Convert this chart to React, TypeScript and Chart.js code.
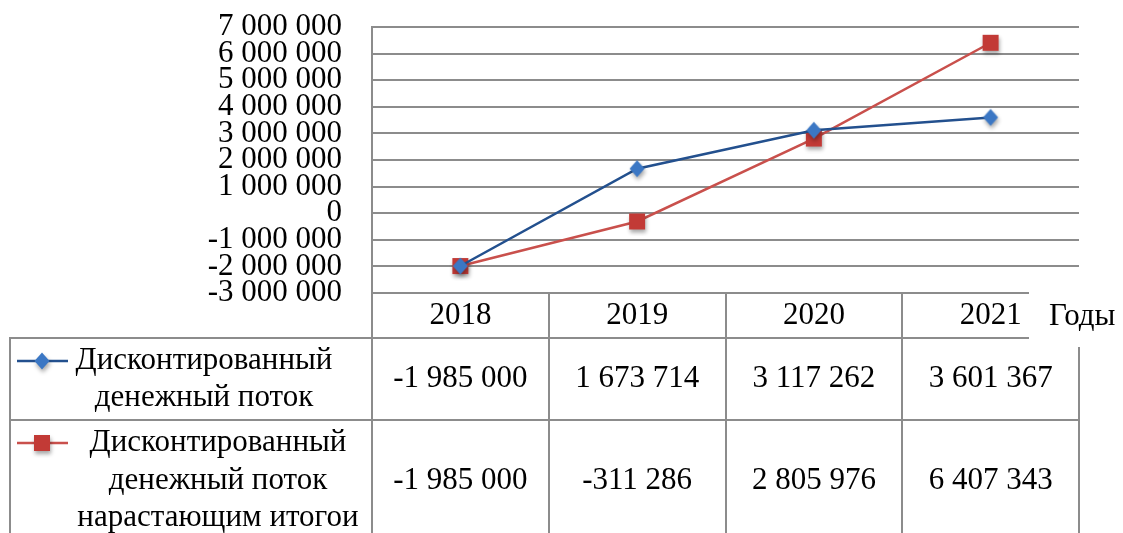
import React, { useEffect, useRef } from "react";
import { Chart, registerables } from "chart.js";

Chart.register(...registerables);

const categories = ["2018", "2019", "2020", "2021"];
const discounted = [-1985000, 1673714, 3117262, 3601367];
const cumulative = [-1985000, -311286, 2805976, 6407343];
const seriesNames = [
  ["Дисконтированный", "денежный поток"],
  ["Дисконтированный", "денежный поток", "нарастающим итогои"],
];
const axisTitle = "Годы";
const yMin = -3000000;
const yMax = 7000000;
const yStep = 1000000;

const FONT = "'Liberation Serif', 'Times New Roman', serif";
const FONT_SIZE = 31;
const GRID = "#8c8c8c";
const BLUE_LINE = "#23508e";
const BLUE_MARK = "#3b77c4";
const RED_LINE = "#c9504c";
const RED_MARK = "#c23a36";

function fmt(n: number): string {
  const s = Math.round(Math.abs(n)).toString();
  const parts: string[] = [];
  for (let i = s.length; i > 0; i -= 3) parts.unshift(s.slice(Math.max(0, i - 3), i));
  return (n < 0 ? "-" : "") + parts.join(" ");
}

function makeDiamond(): HTMLCanvasElement {
  const c = document.createElement("canvas");
  c.width = 28;
  c.height = 30;
  const g = c.getContext("2d")!;
  const cx = 14, cy = 15, hw = 7.5, hh = 8.5;
  g.shadowColor = "rgba(0,0,0,0.35)";
  g.shadowBlur = 4;
  g.shadowOffsetX = 1;
  g.shadowOffsetY = 3;
  g.beginPath();
  g.moveTo(cx, cy - hh);
  g.lineTo(cx + hw, cy);
  g.lineTo(cx, cy + hh);
  g.lineTo(cx - hw, cy);
  g.closePath();
  g.fillStyle = BLUE_MARK;
  g.fill();
  return c;
}

function makeSquare(): HTMLCanvasElement {
  const c = document.createElement("canvas");
  c.width = 30;
  c.height = 30;
  const g = c.getContext("2d")!;
  g.shadowColor = "rgba(0,0,0,0.35)";
  g.shadowBlur = 4;
  g.shadowOffsetX = 1;
  g.shadowOffsetY = 3;
  g.fillStyle = RED_MARK;
  g.fillRect(15 - 8, 15 - 8, 16, 16);
  return c;
}

export default function App() {
  const ref = useRef<HTMLCanvasElement | null>(null);

  useEffect(() => {
    if (!ref.current) return;
    const diamond = makeDiamond();
    const square = makeSquare();
    const markers = [diamond, square];
    const lineColors = [BLUE_LINE, RED_LINE];
    const seriesData = [discounted, cumulative];

    const tablePlugin = {
      id: "dataTable",
      afterDraw(chart: any) {
        const { ctx, chartArea } = chart;
        const left = chartArea.left;
        const right = chartArea.right;
        const bottom = chartArea.bottom;
        const cw = (right - left) / categories.length;
        const headerBottom = bottom + 45;
        const row1Bottom = headerBottom + 82;
        const tableBottom = 533;
        const tableLeft = 10;

        ctx.save();
        ctx.strokeStyle = GRID;
        ctx.lineWidth = 2;
        ctx.beginPath();
        ctx.moveTo(tableLeft - 1, headerBottom);
        ctx.lineTo(right + 1, headerBottom);
        ctx.moveTo(tableLeft - 1, row1Bottom);
        ctx.lineTo(right + 1, row1Bottom);
        ctx.moveTo(tableLeft, headerBottom);
        ctx.lineTo(tableLeft, tableBottom);
        for (let i = 0; i <= categories.length; i++) {
          const xx = Math.round(left + i * cw);
          ctx.moveTo(xx, bottom);
          ctx.lineTo(xx, tableBottom);
        }
        ctx.stroke();

        ctx.fillStyle = "#000";
        ctx.font = `${FONT_SIZE}px ${FONT}`;
        ctx.textAlign = "center";
        ctx.textBaseline = "middle";
        const xs = chart.scales.x;
        categories.forEach((c, i) => {
          const cx = xs.getPixelForValue(i);
          ctx.fillText(c, cx, bottom + 23);
          ctx.fillText(fmt(discounted[i]), cx, headerBottom + 41);
          ctx.fillText(fmt(cumulative[i]), cx, row1Bottom + 61);
        });

        const labelCenters = [204, 218];
        const lineYs = [
          [headerBottom + 23, headerBottom + 60],
          [row1Bottom + 23, row1Bottom + 61, row1Bottom + 98],
        ];
        seriesNames.forEach((lines, s) => {
          lines.forEach((t, j) => ctx.fillText(t, labelCenters[s], lineYs[s][j]));
          const my = lineYs[s][0];
          ctx.strokeStyle = lineColors[s];
          ctx.lineWidth = 2.5;
          ctx.beginPath();
          ctx.moveTo(17, my);
          ctx.lineTo(68, my);
          ctx.stroke();
          const m = markers[s];
          ctx.drawImage(m, 42 - m.width / 2, my - m.height / 2);
        });

        ctx.fillStyle = "#fff";
        ctx.fillRect(1029, bottom - 2, 123, headerBottom + 9 - bottom + 2);
        ctx.fillStyle = "#000";
        ctx.textAlign = "left";
        ctx.fillText(axisTitle, 1049, bottom + 24);
        ctx.restore();
      },
    };

    const chart = new Chart(ref.current, {
      type: "line",
      data: {
        labels: categories,
        datasets: seriesData.map((d, i) => ({
          label: seriesNames[i].join(" "),
          data: d,
          borderColor: lineColors[i],
          borderWidth: 2.5,
          pointStyle: markers[i] as any,
          pointRadius: 8,
          tension: 0,
          fill: false,
        })),
      },
      options: {
        responsive: false,
        animation: false,
        layout: { padding: { top: 27, right: 44, bottom: 240, left: 0 } },
        plugins: { legend: { display: false }, tooltip: { enabled: false } },
        scales: {
          x: {
            offset: true,
            grid: { display: false, drawTicks: false },
            ticks: { display: false },
            border: { display: true, color: GRID, width: 2 },
            afterFit: (s: any) => {
              s.height = 0;
            },
          },
          y: {
            min: yMin,
            max: yMax,
            grid: { color: GRID, lineWidth: 2, drawTicks: false },
            border: { display: true, color: GRID, width: 2 },
            ticks: {
              stepSize: yStep,
              autoSkip: false,
              padding: 30,
              color: "#000",
              font: { family: FONT, size: FONT_SIZE, lineHeight: 0.85 },
              callback: (v: any) => fmt(Number(v)),
            },
            afterFit: (s: any) => {
              s.width = 372;
              s.paddingTop = 0;
              s.paddingBottom = 0;
            },
          },
        },
      },
      plugins: [tablePlugin],
    });
    return () => chart.destroy();
  }, []);

  return (
    <div style={{ position: "absolute", left: 0, top: 0, width: 1123, height: 533, background: "#fff" }}>
      <canvas ref={ref} width={1123} height={533} style={{ display: "block" }} />
    </div>
  );
}
